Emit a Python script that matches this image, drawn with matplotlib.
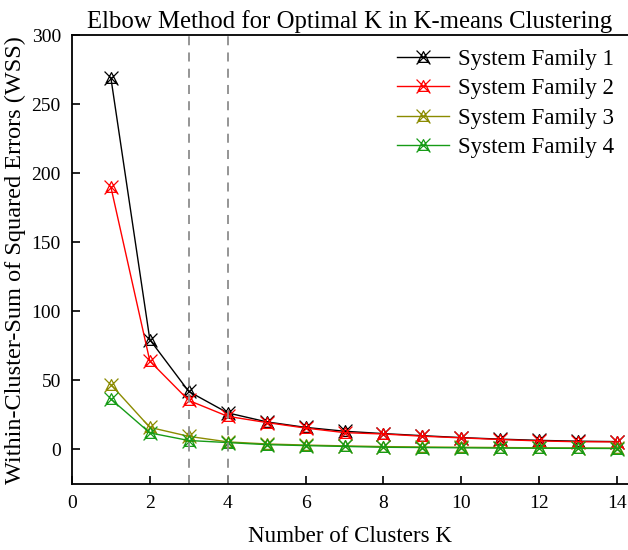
import matplotlib
matplotlib.use("Agg")
import matplotlib.pyplot as plt
from matplotlib.path import Path
import numpy as np

plt.rcParams['font.family'] = ['Liberation Serif', 'DejaVu Serif']

k_values = list(range(1, 15))
family1 = [269, 79.5, 42, 26.5, 20, 16, 13.2, 11.5, 10, 8.6, 7.5, 6.6, 6.0, 5.7]
family2 = [190, 64, 35.5, 24, 19.5, 15.5, 12.2, 11.2, 9.6, 8.4, 7.2, 6.2, 5.6, 5.5]
family3 = [47, 16, 9.5, 5.5, 4.0, 3.2, 2.6, 2.1, 1.8, 1.6, 1.4, 1.2, 1.1, 1.0]
family4 = [36.5, 12, 6.5, 5.0, 3.5, 2.8, 2.2, 1.6, 1.4, 1.2, 1.0, 0.9, 0.8, 0.7]
labels = ['System Family 1', 'System Family 2', 'System Family 3', 'System Family 4']
colors = ['#000000', '#ff0000', '#8b8b00', '#169b16']
elbows = [3, 4]

# Custom marker: triangle overlaid with an X
verts = [(-0.8, -0.7), (0, 0.85), (0.8, -0.7), (-0.8, -0.7),
         (-1, -1), (1, 1), (-1, 1), (1, -1)]
codes = [Path.MOVETO, Path.LINETO, Path.LINETO, Path.LINETO,
         Path.MOVETO, Path.LINETO, Path.MOVETO, Path.LINETO]
marker = Path(verts, codes)

fig = plt.figure(figsize=(6.28, 5.5), dpi=100)
ax = fig.add_axes([0.1146, 0.12, 0.8854, 0.816])

for ys, lab, c in zip([family1, family2, family3, family4], labels, colors):
    ax.plot(k_values, ys, color=c, lw=1.0, marker=marker, markersize=10,
            markerfacecolor='none', markeredgecolor=c, markeredgewidth=0.9,
            label=lab)

for e in elbows:
    ax.axvline(e, color='#8c8c8c', lw=1.3, ls=(0, (5, 4)))

ax.set_xlim(0, 14.28)
ax.set_ylim(-25, 300)
ax.set_xticks(range(0, 15, 2))
ax.set_yticks(range(0, 301, 50))
ax.tick_params(direction='in', length=6, width=1.2, labelsize=14, pad=8)
for s in ['left', 'bottom', 'top']:
    ax.spines[s].set_linewidth(1.3)
ax.spines['right'].set_visible(False)

ax.set_xlabel('Number of Clusters K', fontsize=16.6, labelpad=10)
ax.set_ylabel('Within-Cluster-Sum of Squared Errors (WSS)', fontsize=17.5, labelpad=4)
ax.set_title('Elbow Method for Optimal K in K-means Clustering', fontsize=17.8, pad=5)

leg = ax.legend(loc='upper right', frameon=False, fontsize=16.6, handlelength=2.25,
                labelspacing=0.35, handletextpad=0.4, borderaxespad=0.2)

fig.savefig('out.png', dpi=100)
